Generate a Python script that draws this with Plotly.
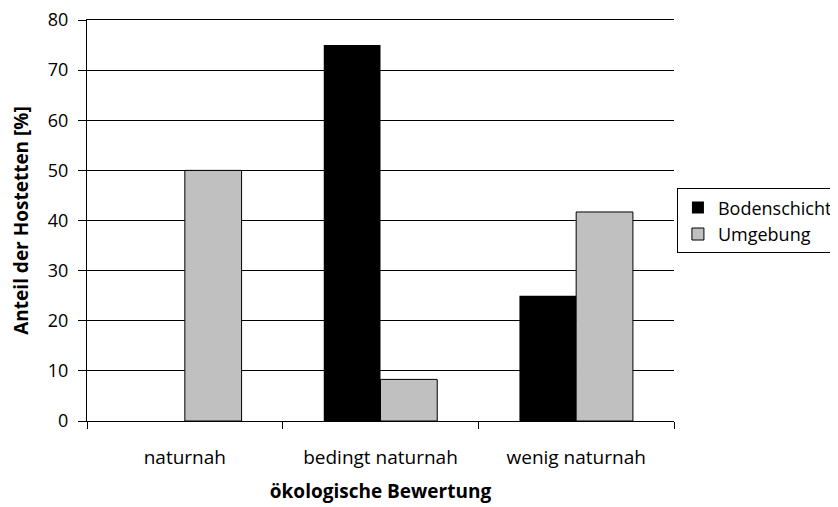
import plotly.graph_objects as go

categories = ["naturnah", "bedingt naturnah", "wenig naturnah"]
bodenschicht = [0, 75, 25]
umgebung = [50, 8.3, 41.7]

font_family = "Open Sans, Noto Sans, sans-serif"

fig = go.Figure()
fig.add_trace(go.Bar(
    x=categories, y=bodenschicht, name="Bodenschicht",
    marker=dict(color="#000000", line=dict(width=0)),
))
fig.add_trace(go.Bar(
    x=categories, y=umgebung, name="Umgebung",
    marker=dict(color="#c0c0c0", line=dict(color="#000000", width=1)),
))

# the page has an 8px body margin, so margins are shifted by 8
fig.update_layout(
    width=838, height=507,
    margin=dict(l=79, r=172, t=12, b=94, autoexpand=False),
    plot_bgcolor="white", paper_bgcolor="white",
    barmode="group", bargap=0.42, bargroupgap=0,
    font=dict(family=font_family, size=19, color="#000000"),
    showlegend=True,
    legend=dict(
        x=1.005, y=0.58, xanchor="left", yanchor="top",
        bordercolor="#000000", borderwidth=1,
        font=dict(size=18), tracegroupgap=0,
        itemwidth=30,
    ),
)

fig.update_xaxes(
    automargin=False,
    showline=True, mirror=True, linecolor="#000000", linewidth=1,
    ticks="outside", tickson="boundaries", ticklen=7, tickcolor="#000000",
    ticklabelstandoff=19,
    title=dict(text="<b>ökologische Bewertung</b>", font=dict(size=19), standoff=15),
    tickfont=dict(size=19),
)
fig.update_yaxes(
    automargin=False,
    range=[0, 80], dtick=10,
    showline=True, linecolor="#000000", linewidth=1,
    showgrid=True, gridcolor="#000000", gridwidth=1,
    ticks="outside", ticklen=8, tickcolor="#000000",
    ticklabelstandoff=6, ticklabeloverflow="allow",
    title=dict(text="<b>Anteil der Hostetten [%]</b>", font=dict(size=19)),
    tickfont=dict(size=18),
    zeroline=False,
)

fig.write_html("out.html")
